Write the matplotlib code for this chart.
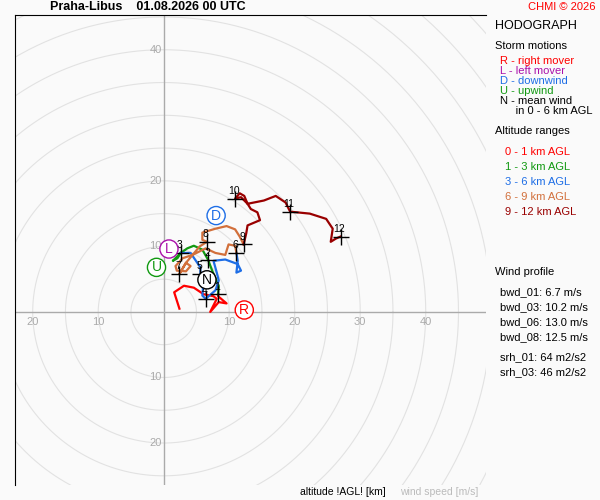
import numpy as np
import matplotlib.pyplot as plt

plt.rcParams['font.family'] = ['Liberation Sans', 'DejaVu Sans']

# height markers (km) and their u, v (m/s)
km_labels = ["1", "2", "3", "4", "5", "6", "7", "8", "9", "10", "11", "12"]
km_u = [8.3, 6.8, 2.6, 6.4, 5.6, 11.1, 2.4, 6.6, 12.2, 10.9, 19.3, 27.0]
km_v = [2.7, 7.9, 9.0, 2.0, 5.8, 9.0, 5.8, 10.7, 10.3, 17.3, 15.3, 11.5]

seg_0_1_u = [2.4, 1.6, 3.1, 4.6, 6.1, 7.6, 8.1, 7.1, 8.4, 9.6, 8.3, 8.3]
seg_0_1_v = [0.5, 3.0, 4.0, 3.7, 2.7, 2.4, 2.0, 0.0, 1.5, 1.3, 2.4, 2.7]
seg_1_3_u = [8.3, 8.4, 7.4, 6.8, 5.9, 4.6, 3.6, 2.6, 1.4, 2.1, 2.6]
seg_1_3_v = [2.7, 4.0, 6.3, 7.9, 9.5, 10.1, 9.7, 9.0, 7.8, 8.2, 9.0]
seg_3_6_u = [2.6, 4.1, 5.6, 5.6, 6.1, 5.9, 6.4, 7.9, 8.4, 8.1, 7.6, 9.4, 11.3, 11.8, 11.1, 11.3, 11.1]
seg_3_6_v = [9.0, 9.0, 6.8, 5.8, 4.8, 2.5, 2.0, 3.3, 4.8, 6.0, 7.8, 8.0, 7.3, 6.3, 6.0, 7.8, 9.0]
seg_6_9_u = [11.1, 10.9, 9.9, 9.4, 7.9, 6.4, 4.4, 2.9, 1.8, 2.0, 3.4, 4.1, 3.4, 2.4,
             3.4, 5.5, 6.6, 5.9, 5.9, 7.9, 9.6, 10.9, 11.6, 12.2]
seg_6_9_v = [9.0, 10.1, 10.3, 8.7, 9.0, 9.7, 8.7, 8.2, 7.0, 6.3, 6.2, 7.0, 7.5, 5.8,
             7.5, 10.0, 10.7, 11.0, 12.1, 12.7, 13.1, 12.6, 11.5, 10.3]
seg_9_12_u = [12.2, 12.6, 12.8, 14.7, 14.3, 13.3, 12.8, 12.3, 11.6, 10.9, 11.8, 12.8,
              15.3, 17.1, 18.6, 19.3, 22.3, 24.8, 25.8, 25.5, 26.3, 27.0]
seg_9_12_v = [10.3, 12.0, 13.2, 14.0, 15.2, 15.7, 16.5, 17.7, 18.1, 17.3, 17.5, 16.5,
              17.0, 17.7, 16.7, 15.3, 15.0, 14.2, 12.7, 10.7, 11.2, 11.5]

segments = [(seg_0_1_u, seg_0_1_v, "#ff0000"), (seg_1_3_u, seg_1_3_v, "#119911"),
            (seg_3_6_u, seg_3_6_v, "#1e6ee6"), (seg_6_9_u, seg_6_9_v, "#d2703c"),
            (seg_9_12_u, seg_9_12_v, "#990000")]

storm_letters = ["R", "L", "D", "U", "N"]
storm_u = [12.3, 0.8, 8.0, -1.1, 6.6]
storm_v = [0.3, 9.6, 14.7, 6.8, 4.9]
storm_colors = ["#ff0000", "#aa11aa", "#1e6ee6", "#119911", "#000000"]

storm_text = [("R - right mover", "#ff0000"), ("L - left mover", "#aa11aa"),
              ("D - downwind", "#1e6ee6"), ("U - upwind", "#119911"),
              ("N - mean wind", "#000000"), ("     in 0 - 6 km AGL", "#000000")]
alt_text = [("0 - 1 km AGL", "#ff0000"), ("1 - 3 km AGL", "#119911"),
            ("3 - 6 km AGL", "#1e6ee6"), ("6 - 9 km AGL", "#d2703c"),
            ("9 - 12 km AGL", "#990000")]
wind_text = ["bwd_01: 6.7 m/s", "bwd_03: 10.2 m/s", "bwd_06: 13.0 m/s", "bwd_08: 12.5 m/s"]
srh_text = ["srh_01: 64 m2/s2", "srh_03: 46 m2/s2"]

bg = "#fafafa"
fig = plt.figure(figsize=(6, 5), dpi=100, facecolor=bg)
ax = fig.add_axes([15 / 600, 15 / 500, 471 / 600, 470 / 500], facecolor=bg)
ax.set_xlim(-22.7, 49.2)
ax.set_ylim(-26.4, 45.3)
for s in ["right", "bottom"]:
    ax.spines[s].set_visible(False)
ax.set_xticks([])
ax.set_yticks([])

theta = np.linspace(0, 2 * np.pi, 400)
for r in range(5, 75, 5):
    ax.plot(r * np.cos(theta), r * np.sin(theta), color="#e2e2e2", lw=0.8, zorder=1)
ax.axhline(0, color="#aaaaaa", lw=1, zorder=1)
ax.axvline(0, color="#aaaaaa", lw=1, zorder=1)
for t in [-20, -10, 10, 20, 30, 40]:
    ax.text(t, -0.8, str(abs(t)), color="#aaaaaa", fontsize=8, ha="center", va="top")
for t in [-20, -10, 10, 20, 40]:
    ax.text(-0.3, t, str(abs(t)), color="#aaaaaa", fontsize=8, ha="right", va="center")

for u, v, c in segments:
    ax.plot(u, v, color=c, lw=1.6, zorder=3)

ax.plot(km_u, km_v, "+", color="black", ms=11, mew=1, zorder=4)
for lab, u, v in zip(km_labels, km_u, km_v):
    ax.text(u - 0.2, v + 0.4, lab, fontsize=7.5, ha="center", va="bottom", zorder=5)

for lab, u, v, c in zip(storm_letters, storm_u, storm_v, storm_colors):
    ax.text(u, v, lab, color=c, fontsize=10, ha="center", va="center", zorder=6,
            bbox=dict(boxstyle="circle,pad=0.15", fc="white", ec=c, lw=1))

fig.text(50 / 600, 1 - 7 / 500, "Praha-Libus    01.08.2026 00 UTC", fontsize=9,
         fontweight="bold", va="center")
fig.text(596 / 600, 1 - 7 / 500, "CHMI © 2026", fontsize=8, color="#ff0000",
         ha="right", va="center")

def pt(x, y, s, c="#000000", size=8):
    fig.text(x / 600, 1 - y / 500, s, color=c, fontsize=size, va="center")

pt(495, 26, "HODOGRAPH", size=9)
pt(495, 46, "Storm motions")
for i, (s, c) in enumerate(storm_text):
    pt(500, 61 + i * 10, s, c)
pt(495, 131, "Altitude ranges")
for i, (s, c) in enumerate(alt_text):
    pt(505, 152 + i * 15, s, c)
pt(495, 272, "Wind profile")
for i, s in enumerate(wind_text):
    pt(500, 292 + i * 15, s)
for i, s in enumerate(srh_text):
    pt(500, 357 + i * 15, s)
pt(300, 492, "altitude !AGL! [km]", size=7.5)
pt(400, 492, "wind speed [m/s]", "#bbbbbb", size=7.5)

fig.savefig("out.png", dpi=100, facecolor=bg)
